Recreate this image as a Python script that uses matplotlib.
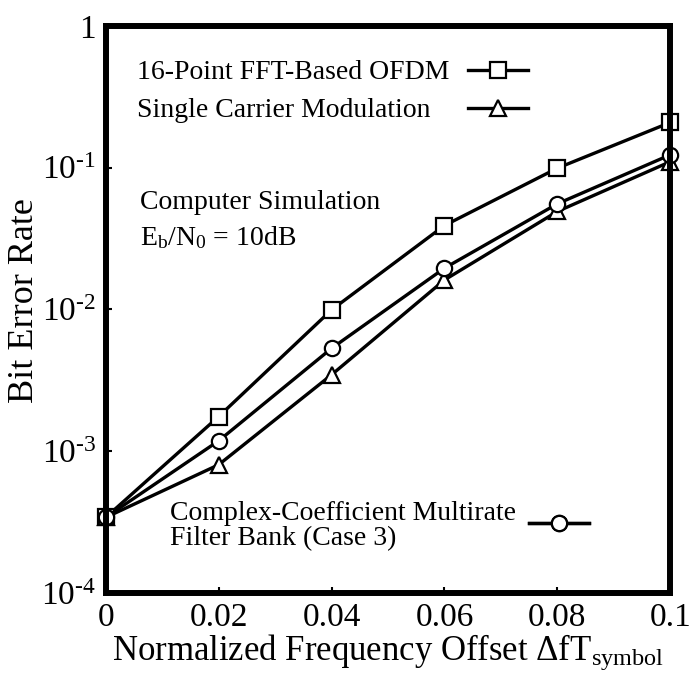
import matplotlib
matplotlib.use("Agg")
import matplotlib.pyplot as plt
from matplotlib.ticker import FixedLocator, NullLocator

plt.rcParams['font.family'] = ['Liberation Serif', 'DejaVu Serif']
plt.rcParams['mathtext.fontset'] = 'custom'
plt.rcParams['mathtext.rm'] = 'Liberation Serif'
plt.rcParams['mathtext.it'] = 'Liberation Serif:italic'

# frequency offset and BER values
offset = [0, 0.02, 0.04, 0.06, 0.08, 0.1]
ber_ofdm = [3.4e-4, 1.75e-3, 9.9e-3, 0.039, 0.099, 0.208]
ber_filterbank = [3.4e-4, 1.18e-3, 5.3e-3, 0.0195, 0.0555, 0.123]
ber_single = [3.4e-4, 8.0e-4, 3.45e-3, 0.0161, 0.049, 0.110]

xticks = [0, 0.02, 0.04, 0.06, 0.08, 0.1]
xticklabels = ["0", "0.02", "0.04", "0.06", "0.08", "0.1"]
yticks = [1e-4, 1e-3, 1e-2, 1e-1, 1]
yticklabels = [r"$10^{\text{-}4}$", r"$10^{\text{-}3}$", r"$10^{\text{-}2}$",
               r"$10^{\text{-}1}$", "1"]

fig = plt.figure(figsize=(6.91, 6.79), dpi=100)
ax = fig.add_axes([0.153, 0.127, 0.817, 0.835])

style = dict(color="black", lw=2.4, markersize=11, markerfacecolor="white",
             markeredgecolor="black", markeredgewidth=1.6, clip_on=False)
l_ofdm, = ax.plot(offset, ber_ofdm, marker="s", **style)
l_single, = ax.plot(offset, ber_single, marker="^", **style)
l_fb, = ax.plot(offset, ber_filterbank, marker="o", **style)

ax.set_yscale("log")
ax.set_xlim(0, 0.1)
ax.set_ylim(1e-4, 1)
ax.xaxis.set_major_locator(FixedLocator(xticks))
ax.set_xticklabels(xticklabels, fontsize=24)
ax.yaxis.set_major_locator(FixedLocator(yticks))
ax.yaxis.set_minor_locator(NullLocator())
ax.set_yticklabels(yticklabels, fontsize=24)
ax.tick_params(direction="in", length=4, width=1.5, pad=7)

for sp in ax.spines.values():
    sp.set_linewidth(4.3)

ax.set_xlabel(r"Normalized Frequency Offset $\mathrm{\Delta fT_{symbol}}$",
              fontsize=25, labelpad=0)
ax.set_ylabel("Bit Error Rate", fontsize=26)
ax.yaxis.set_label_coords(-0.115, 0.515)

# legend samples, one small legend per entry, labels drawn as plain text
leg_kw = dict(loc="center", frameon=False, handlelength=2.15, handletextpad=0,
              borderpad=0, borderaxespad=0, fontsize=20)
for handle, anchor in [(l_ofdm, (0.695, 0.917)),
                       (l_single, (0.695, 0.850)),
                       (l_fb, (0.803, 0.118))]:
    leg = ax.legend([handle], [""], bbox_to_anchor=anchor, **leg_kw)
    ax.add_artist(leg)

ax.text(0.055, 0.917, "16-Point FFT-Based OFDM", transform=ax.transAxes,
        fontsize=20, va="center")
ax.text(0.055, 0.850, "Single Carrier Modulation", transform=ax.transAxes,
        fontsize=20, va="center")
ax.text(0.113, 0.118, "Complex-Coefficient Multirate\nFilter Bank (Case 3)",
        transform=ax.transAxes, fontsize=20, va="center", linespacing=1.0)
ax.text(0.06, 0.688, "Computer Simulation", transform=ax.transAxes,
        fontsize=20, va="center")
ax.text(0.06, 0.626, r"$\mathrm{E_b/N_0}$ = 10dB", transform=ax.transAxes,
        fontsize=20, va="center")

fig.savefig("out.png", dpi=100)
